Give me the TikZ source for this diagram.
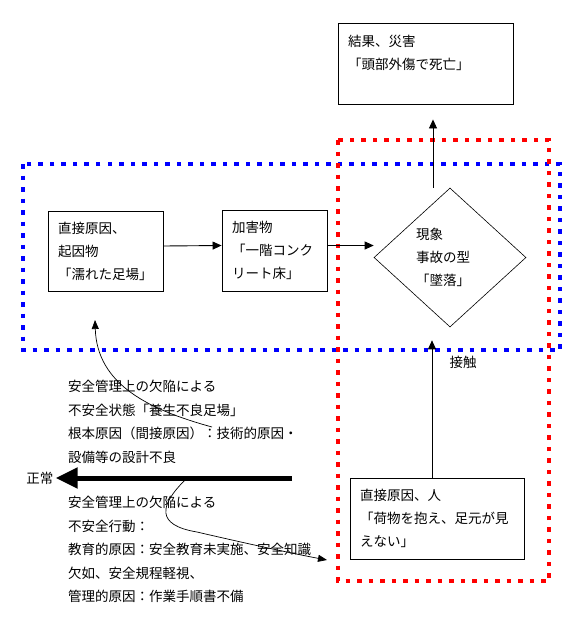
\documentclass[tikz,border=0pt]{standalone}
\usepackage{fontspec}
\setmainfont{Noto Sans CJK JP}
\usetikzlibrary{shapes.geometric, arrows.meta, positioning}

\newcommand{\jtext}{\fontsize{13.5pt}{23pt}\selectfont}
\definecolor{frameblue}{RGB}{0,0,255}
\definecolor{framered}{RGB}{255,0,0}

\begin{document}
\begin{tikzpicture}[
    x=1pt, y=-1pt,
    box/.style={rectangle, draw, line width=0.9pt, inner xsep=10pt, inner ysep=0pt, minimum height=81pt, align=left, font=\jtext},
    phase/.style={diamond, draw, line width=0.6pt, inner sep=0pt, minimum width=152pt, minimum height=139pt, align=left, text width=68pt, font=\jtext},
    note/.style={inner sep=0pt, align=left, font=\fontsize{13.5pt}{23.5pt}\selectfont},
    arrow/.style={-{Triangle[length=9pt,width=8pt]}, line width=0.9pt},
    curve/.style={-{Triangle[length=9pt,width=7pt]}, line width=0.7pt},
    bigarrow/.style={-{Triangle[length=22pt,width=20pt]}, line width=5pt},
    frame/.style={line width=4.5pt, dash pattern=on 4.5pt off 7pt}
]
\useasboundingbox (0,0) rectangle (575,630);

% Frames
\draw[frame, frameblue] (23,164) rectangle (560,350);
\draw[frame, framered] (338,140) rectangle (549,581);

% Boxes
\node[box, text width=155pt] (result) at (425.5,63.5) {結果、災害\\「頭部外傷で死亡」\\\mbox{}};
\node[box, text width=95pt, minimum height=80pt] (cause) at (105.5,251) {直接原因、\\起因物\\「濡れた足場」};
\node[box, text width=85pt] (harm) at (274.5,250.5) {加害物\\「一階コンク\\リート床」};
\node[phase] (phen) at (450,257.5) {現象\\事故の型\\「墜落」};
\node[box, text width=154pt] (person) at (437,518.5) {直接原因、人\\「荷物を抱え、足元が見\\えない」};

% Notes
\node[note] (contact) at (463,362) {接触};
\node[note] (normal) at (40,478) {正常};
\node[note, anchor=north west] (mgmt1) at (68,380) {安全管理上の欠陥による\\不安全状態「養生不良足場」\\根本原因（間接原因）：技術的原因・\\設備等の設計不良};
\node[note, anchor=north west] (mgmt2) at (68,496) {安全管理上の欠陥による\\不安全行動：\\教育的原因：安全教育未実施、安全知識\\欠如、安全規程軽視、\\管理的原因：作業手順書不備};

% Arrows
\draw[arrow] ([yshift=5pt]cause.east) -- ([yshift=5pt]harm.west);
\draw[arrow] ([yshift=5pt]harm.east) -- ([yshift=5pt]harm.east -| phen.west);
\draw[arrow, shorten >=15pt] ([xshift=-17pt]phen.north) -- ([xshift=-17pt]phen.north |- result.south);
\draw[arrow, shorten >=13pt] ([xshift=-5pt]person.north) -- ([xshift=-5pt]person.north |- phen.south);

% Normal line and curves
\coordinate (linestart) at (292,478);
\coordinate (curve1start) at (212,427);
\coordinate (curve1end) at (95,320);
\coordinate (curve2start) at (185,480);
\coordinate (curve2mid) at (197,532);
\coordinate (curve2end) at (327,560);
\draw[bigarrow, shorten >=2pt] (linestart) -- (normal.east);
\draw[curve] (curve1start) .. controls (150,410) and (97,385) .. (curve1end);
\draw[curve] (curve2start) .. controls (160,505) and (155,525) .. (curve2mid) .. controls (240,542) and (290,553) .. (curve2end);

\end{tikzpicture}
\end{document}
